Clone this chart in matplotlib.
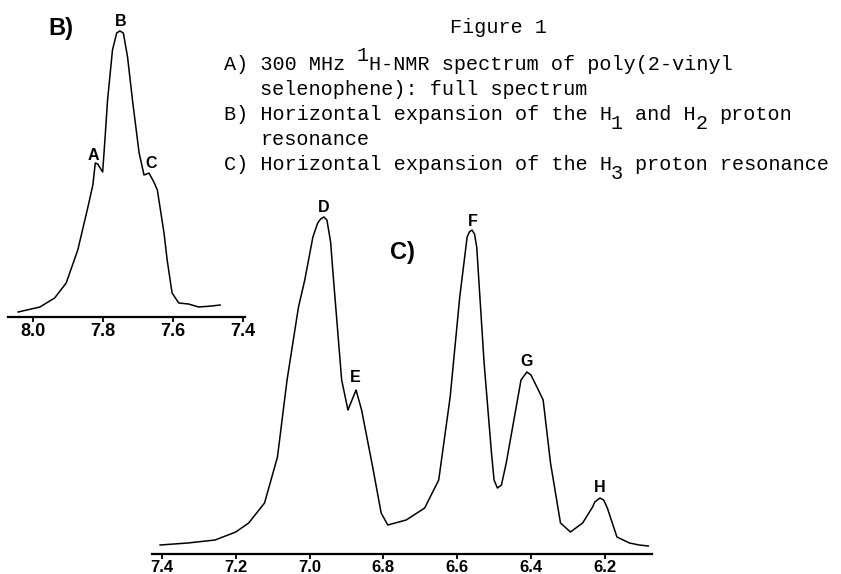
import matplotlib
matplotlib.use("Agg")
import matplotlib.pyplot as plt

# panel B) - H1 / H2 proton resonance (ppm, trace height)
b_ppm = [8.042, 7.980, 7.938, 7.905, 7.872, 7.843, 7.829, 7.822, 7.815, 7.810,
         7.801, 7.794, 7.787, 7.773, 7.761, 7.752, 7.742, 7.730, 7.716, 7.697,
         7.683, 7.669, 7.655, 7.645, 7.626, 7.617, 7.603, 7.584, 7.556, 7.527,
         7.490, 7.466]
b_int = [5, 10, 19, 34, 67, 110, 132, 154, 153, 150,
         145, 180, 217, 267, 284, 286, 284, 260, 217, 164,
         142, 144, 135, 127, 84, 57, 24, 14, 13, 10,
         11, 12]
b_ticks = [8.0, 7.8, 7.6, 7.4]
b_peaks = ["A", "B", "C"]
b_peak_ppm = [7.827, 7.751, 7.663]
b_peak_int = [162, 295, 154]

# panel C) - H3 proton resonance
c_ppm = [7.405, 7.330, 7.256, 7.200, 7.165, 7.122, 7.087, 7.061, 7.030, 7.013,
         6.991, 6.978, 6.970, 6.961, 6.953, 6.943, 6.935, 6.913, 6.896, 6.874,
         6.859, 6.829, 6.806, 6.788, 6.738, 6.688, 6.650, 6.619, 6.593, 6.573,
         6.567, 6.560, 6.553, 6.547, 6.527, 6.507, 6.500, 6.491, 6.480, 6.467,
         6.440, 6.427, 6.411, 6.400, 6.380, 6.367, 6.347, 6.320, 6.293, 6.260,
         6.233, 6.227, 6.213, 6.203, 6.193, 6.167, 6.133, 6.107, 6.082]
c_int = [9, 11, 14, 22, 31, 51, 97, 174, 247, 274,
         317, 331, 335, 337, 334, 312, 274, 174, 144, 164,
         144, 87, 41, 29, 34, 46, 74, 157, 257, 317,
         322, 324, 320, 307, 191, 101, 74, 66, 69, 91,
         147, 174, 182, 179, 164, 154, 91, 31, 22, 31,
         47, 52, 56, 54, 46, 17, 11, 9, 8]
c_ticks = [7.4, 7.2, 7.0, 6.8, 6.6, 6.4, 6.2]
c_peaks = ["D", "E", "F", "G", "H"]
c_peak_ppm = [6.961, 6.876, 6.557, 6.411, 6.213]
c_peak_int = [347, 176, 332, 192, 66]

# caption lines, as pieces: (char column, text, raise in px)
title = "Figure 1"
lines = [
    [(0, "A) 300 MHz", 0), (11, "1", 9), (12, "H-NMR spectrum of poly(2-vinyl", 0)],
    [(3, "selenophene): full spectrum", 0)],
    [(0, "B) Horizontal expansion of the H", 0), (32, "1", -9),
     (34, "and H", 0), (39, "2", -9), (41, "proton", 0)],
    [(3, "resonance", 0)],
    [(0, "C) Horizontal expansion of the H", 0), (32, "3", -9),
     (34, "proton resonance", 0)],
]

W, H = 841, 574
fig = plt.figure(figsize=(W / 100, H / 100), dpi=100)


def px_axes(x0, y0, x1, y1):
    #pixel box measured from top left
    ax = fig.add_axes([x0 / W, 1 - y1 / H, (x1 - x0) / W, (y1 - y0) / H])
    ax.set_facecolor("none")
    for s in ["top", "left", "right"]:
        ax.spines[s].set_visible(False)
    ax.spines["bottom"].set_linewidth(1.6)
    ax.set_yticks([])
    ax.tick_params(axis="x", direction="out", length=3.5, width=1.3, pad=0.5)
    return ax


sans = "Liberation Sans"

# panel B
axb = px_axes(8, 0, 245, 317)
axb.plot(b_ppm, b_int, color="black", lw=1.1)
axb.set_xlim(8.071, 7.395)
axb.set_ylim(0, 317)
axb.set_xticks(b_ticks)
axb.set_xticklabels([f"{t:.1f}" for t in b_ticks], fontsize=13,
                    fontweight="bold", family=sans)
for lab, p, i in zip(b_peaks, b_peak_ppm, b_peak_int):
    axb.text(p, i, lab, ha="center", va="center", fontsize=11.5,
             fontweight="bold", family=sans)
axb.text(7.921, 288, "B)", ha="center", va="center", fontsize=17,
         fontweight="bold", family=sans)

# panel C
axc = px_axes(152, 150, 652, 554)
axc.plot(c_ppm, c_int, color="black", lw=1.1)
axc.set_xlim(7.427, 6.072)
axc.set_ylim(0, 404)
axc.set_xticks(c_ticks)
axc.set_xticklabels([f"{t:.1f}" for t in c_ticks], fontsize=12,
                    fontweight="bold", family=sans)
for lab, p, i in zip(c_peaks, c_peak_ppm, c_peak_int):
    axc.text(p, i, lab, ha="center", va="center", fontsize=11.5,
             fontweight="bold", family=sans)
axc.text(6.747, 302, "C)", ha="center", va="center", fontsize=17,
         fontweight="bold", family=sans)

# caption text
mono = "Liberation Mono"
fs = 14.5
cw = 0.6 * fs * 100 / 72  #width of one monospace character in px
x0 = 224
base = [70, 95, 120, 145, 170]

fig.text(450 / W, 1 - 33 / H, title, family=mono, fontsize=fs,
         ha="left", va="baseline")
for k, pieces in enumerate(lines):
    for col, s, up in pieces:
        fig.text((x0 + col * cw) / W, 1 - (base[k] - up) / H, s, family=mono,
                 fontsize=fs, ha="left", va="baseline")

fig.savefig("out.png", dpi=100)
